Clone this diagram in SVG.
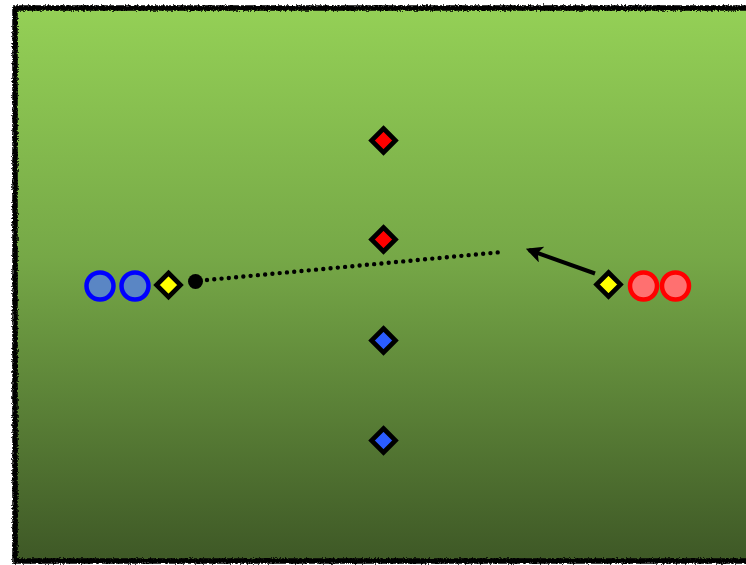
<svg xmlns="http://www.w3.org/2000/svg" width="746" height="565" viewBox="0 0 746 565">
  <defs>
    <linearGradient id="field" x1="0" y1="0" x2="0" y2="1">
      <stop offset="0" stop-color="#94d056"/>
      <stop offset="0.45" stop-color="#76a847"/>
      <stop offset="1" stop-color="#3e5826"/>
    </linearGradient>
    <filter id="rough" x="-5%" y="-5%" width="110%" height="110%">
      <feTurbulence type="fractalNoise" baseFrequency="0.6" numOctaves="2" seed="3"/>
      <feDisplacementMap in="SourceGraphic" scale="4" xChannelSelector="R" yChannelSelector="G"/>
    </filter>
    <marker id="arrow" viewBox="0 0 10 10" refX="8" refY="5" markerWidth="4.2" markerHeight="4.2" orient="auto" markerUnits="strokeWidth">
      <path d="M0,0 L10,5 L0,10 L2.5,5 Z" fill="#000"/>
    </marker>
    <style>
      .diamond { stroke: #000; stroke-width: 4.6; }
      .yellow { fill: #ffff00; }
      .red { fill: #ff0000; }
      .blue { fill: #2b5cff; }
      .bcirc { fill: #5a86c4; stroke: #0000ff; stroke-width: 4.5; }
      .rcirc { fill: #ff7070; stroke: #ff0000; stroke-width: 4.5; }
    </style>
  </defs>

  <g id="field-bg">
    <rect x="15" y="8" width="745" height="553" fill="url(#field)"/>
    <rect x="15" y="8" width="745" height="553" fill="none" stroke="#000" stroke-width="5.5" filter="url(#rough)"/>
  </g>

  <g id="connectors">
    <line x1="207" y1="280" x2="502" y2="252" stroke="#000" stroke-width="4.4" stroke-linecap="round" stroke-dasharray="0 7.3"/>
    <line x1="595" y1="273.5" x2="529" y2="250" stroke="#000" stroke-width="4" marker-end="url(#arrow)"/>
  </g>

  <g id="blue-player-1"><circle class="bcirc" cx="100" cy="286" r="13.5"/></g>
  <g id="blue-player-2"><circle class="bcirc" cx="135" cy="286" r="13.5"/></g>
  <g id="yellow-left"><path class="diamond yellow" d="M168.5,273 L180.5,285 L168.5,297 L156.5,285 Z"/></g>
  <g id="ball"><circle cx="195.5" cy="281.5" r="7.5" fill="#000"/></g>

  <g id="red-cone-1"><path class="diamond red" d="M383.5,128.5 L395.5,140.5 L383.5,152.5 L371.5,140.5 Z"/></g>
  <g id="red-cone-2"><path class="diamond red" d="M383.5,227.5 L395.5,239.5 L383.5,251.5 L371.5,239.5 Z"/></g>
  <g id="blue-cone-1"><path class="diamond blue" d="M383.5,328.5 L395.5,340.5 L383.5,352.5 L371.5,340.5 Z"/></g>
  <g id="blue-cone-2"><path class="diamond blue" d="M383.5,428.5 L395.5,440.5 L383.5,452.5 L371.5,440.5 Z"/></g>

  <g id="yellow-right"><path class="diamond yellow" d="M608.5,272.5 L620.5,284.5 L608.5,296.5 L596.5,284.5 Z"/></g>
  <g id="red-player-1"><circle class="rcirc" cx="643.5" cy="286" r="13.5"/></g>
  <g id="red-player-2"><circle class="rcirc" cx="675.5" cy="286" r="13.5"/></g>
</svg>
